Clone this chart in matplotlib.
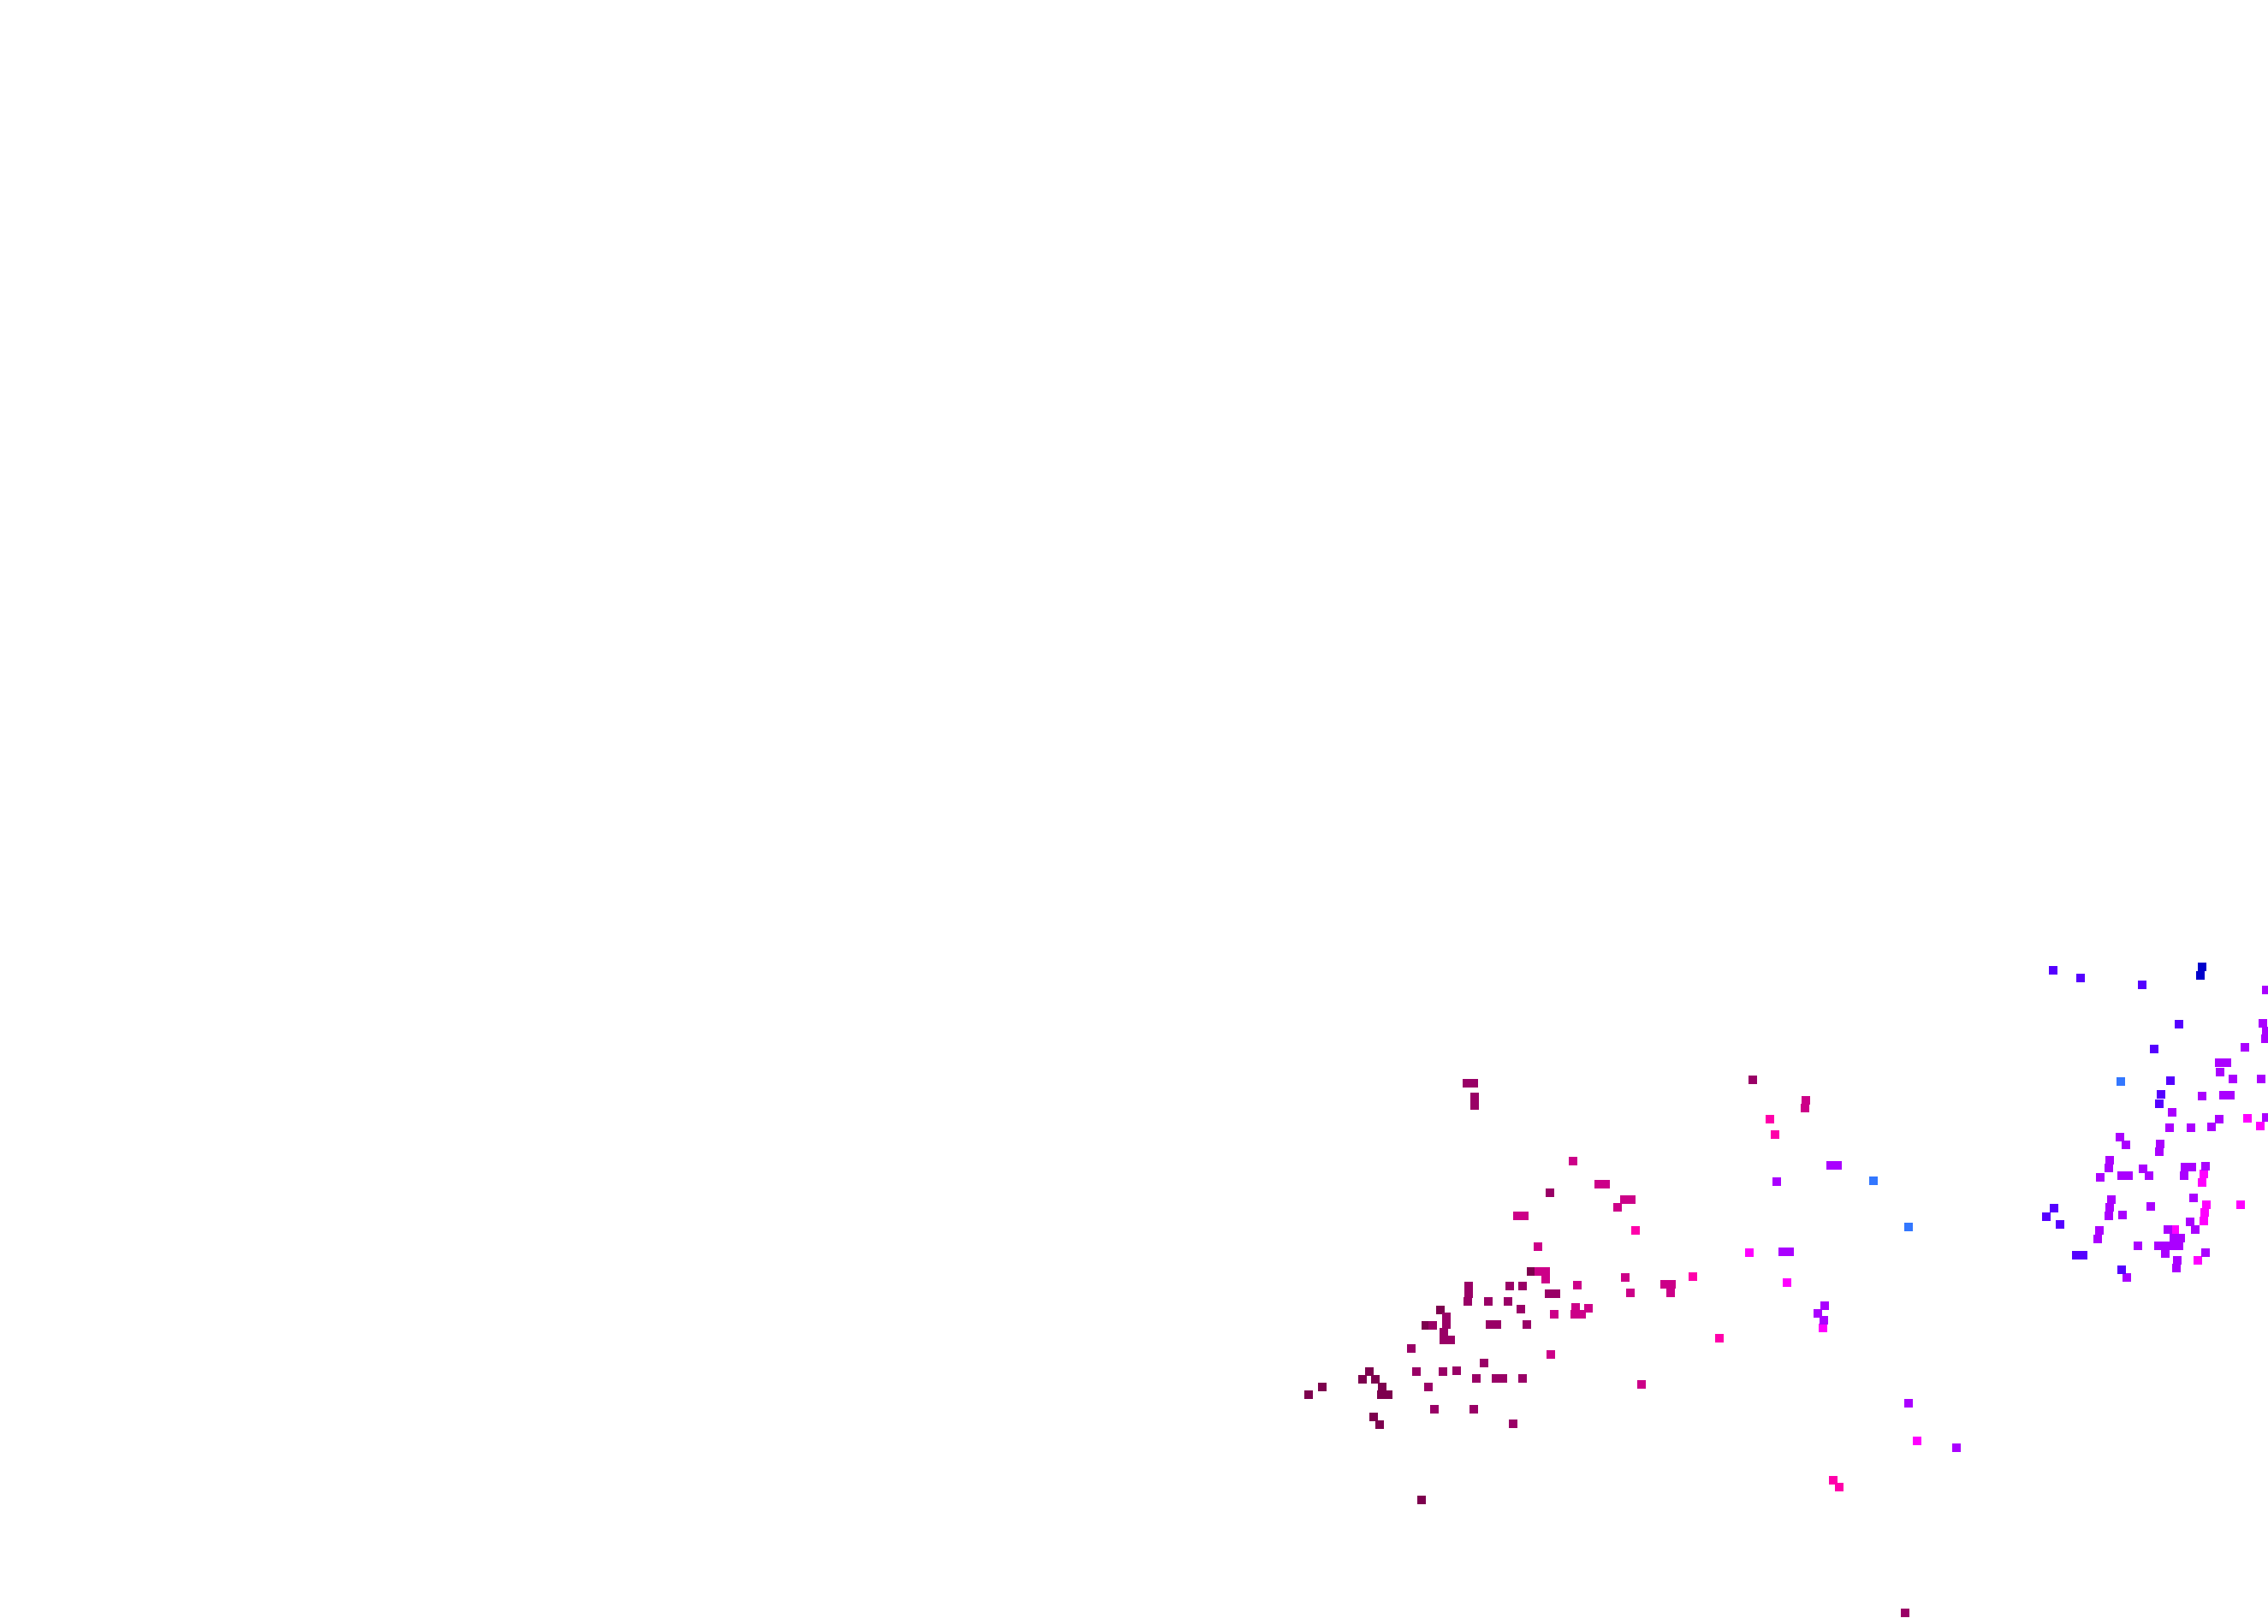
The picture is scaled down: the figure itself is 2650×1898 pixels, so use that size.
import numpy as np
import matplotlib.pyplot as plt
from matplotlib.colors import ListedColormap

# --- colour levels (discrete) ---
cores = ["#7d004e", "#990066", "#cc0088", "#ff00aa", "#ff00ff",
         "#aa00ff", "#5500ff", "#0000cc", "#3377ff"]

# --- pontos: x, y (coordenadas do quadro), nivel de cor ---
x_escuro = [1600, 1592, 1607, 1615, 1545, 1529, 1605, 1612, 1661, 1683, 1666,
            1614, 1622, 1789]
y_escuro = [1604, 1613, 1613, 1622, 1622, 1631, 1657, 1666, 1754, 1532, 1550,
            1631, 1631, 1487]

x_marrom = [1714, 1722, 1723, 1723, 2048, 1811, 1810, 1818, 1716, 1716, 1715,
            1764, 1779, 1739, 1762, 1777, 1690, 1690, 1687, 1687, 1695, 1674,
            1741, 1749, 1784, 1649, 1734, 1655, 1686, 1702, 1725, 1748, 1756,
            1779, 1669, 1676, 1722, 1768, 2226]
y_marrom = [1267, 1267, 1283, 1293, 1263, 1395, 1513, 1513, 1504, 1513, 1522,
            1504, 1504, 1522, 1522, 1531, 1540, 1549, 1558, 1567, 1567, 1550,
            1549, 1549, 1549, 1577, 1594, 1604, 1604, 1603, 1612, 1612, 1612,
            1612, 1622, 1648, 1648, 1665, 1886]

x_rosa_esc = [1773, 1781, 1797, 1798, 1806, 1806, 1838, 1868, 1876, 1898, 1906,
              1890, 1899, 1843, 1945, 1953, 1952, 1905, 1841, 1856, 1840, 1848,
              1816, 1812, 1918, 2110, 2109]
y_rosa_esc = [1422, 1422, 1458, 1487, 1487, 1496, 1358, 1385, 1385, 1403, 1403,
              1412, 1494, 1503, 1502, 1502, 1512, 1512, 1529, 1530, 1537, 1537,
              1537, 1584, 1619, 1287, 1296]

x_rosa = [2068, 2074, 1911, 1978, 2009, 2142, 2149]
y_rosa = [1309, 1327, 1439, 1493, 1565, 1731, 1739]

x_magenta = [2044, 2088, 2130, 2240, 2626, 2641, 2575, 2573, 2618, 2578, 2576,
             2575, 2541, 2568]
y_magenta = [1465, 1500, 1553, 1685, 1308, 1317, 1373, 1383, 1409, 1409, 1418,
             1428, 1438, 1474]

x_roxo = [2076, 2083, 2091, 2139, 2147, 2132, 2124, 2131, 2230, 2286,
          2648, 2644, 2648, 2647, 2623, 2593, 2602, 2594, 2609, 2642, 2573,
          2598, 2606, 2538, 2593, 2648, 2535, 2560, 2584, 2477, 2484, 2524,
          2523, 2465, 2464, 2454, 2479, 2487, 2504, 2511, 2553, 2561, 2552,
          2577, 2563, 2467, 2465, 2464, 2513, 2480, 2559, 2565, 2453, 2451,
          2533, 2540, 2548, 2522, 2530, 2538, 2546, 2498, 2530, 2577, 2544,
          2543, 2485]
y_roxo = [1382, 1464, 1464, 1363, 1363, 1527, 1536, 1544, 1641, 1693,
          1158, 1197, 1206, 1215, 1225, 1243, 1243, 1254, 1262, 1262, 1282,
          1281, 1281, 1301, 1309, 1307, 1319, 1319, 1318, 1330, 1339, 1338,
          1347, 1357, 1366, 1377, 1375, 1375, 1367, 1375, 1365, 1365, 1375,
          1364, 1401, 1403, 1412, 1422, 1411, 1421, 1429, 1438, 1439, 1449,
          1438, 1448, 1448, 1457, 1457, 1457, 1457, 1457, 1466, 1465, 1474,
          1483, 1494]

x_violeta = [2399, 2431, 2503, 2546, 2517, 2536, 2525, 2523, 2400, 2391, 2407,
             2426, 2434, 2479]
y_violeta = [1135, 1144, 1152, 1198, 1227, 1264, 1280, 1291, 1413, 1423, 1432,
             1468, 1468, 1485]

x_azul = [2573, 2571]
y_azul = [1131, 1141]

x_azul_claro = [2478, 2189, 2230]
y_azul_claro = [1265, 1381, 1435]

grupos = [(x_escuro, y_escuro), (x_marrom, y_marrom), (x_rosa_esc, y_rosa_esc),
          (x_rosa, y_rosa), (x_magenta, y_magenta), (x_roxo, y_roxo),
          (x_violeta, y_violeta), (x_azul, y_azul), (x_azul_claro, y_azul_claro)]

xs, ys, cs = [], [], []
for nivel, (gx, gy) in enumerate(grupos):
    xs += gx
    ys += gy
    cs += [nivel] * len(gx)

fig = plt.figure(figsize=(26.5, 18.99), dpi=100)
ax = fig.add_axes([0, 0, 1, 1])

lado = 9.5 * 72 / 100  # lado do quadrado em pontos (~9 px)
ax.scatter(xs, ys, c=cs, cmap=ListedColormap(cores), vmin=-0.5, vmax=len(cores) - 0.5,
           marker="s", s=lado ** 2, linewidths=0)

ax.set_xlim(0, 2650)
ax.set_ylim(1899, 0)
ax.axis("off")

fig.savefig("out.png", dpi=100, facecolor="white")
